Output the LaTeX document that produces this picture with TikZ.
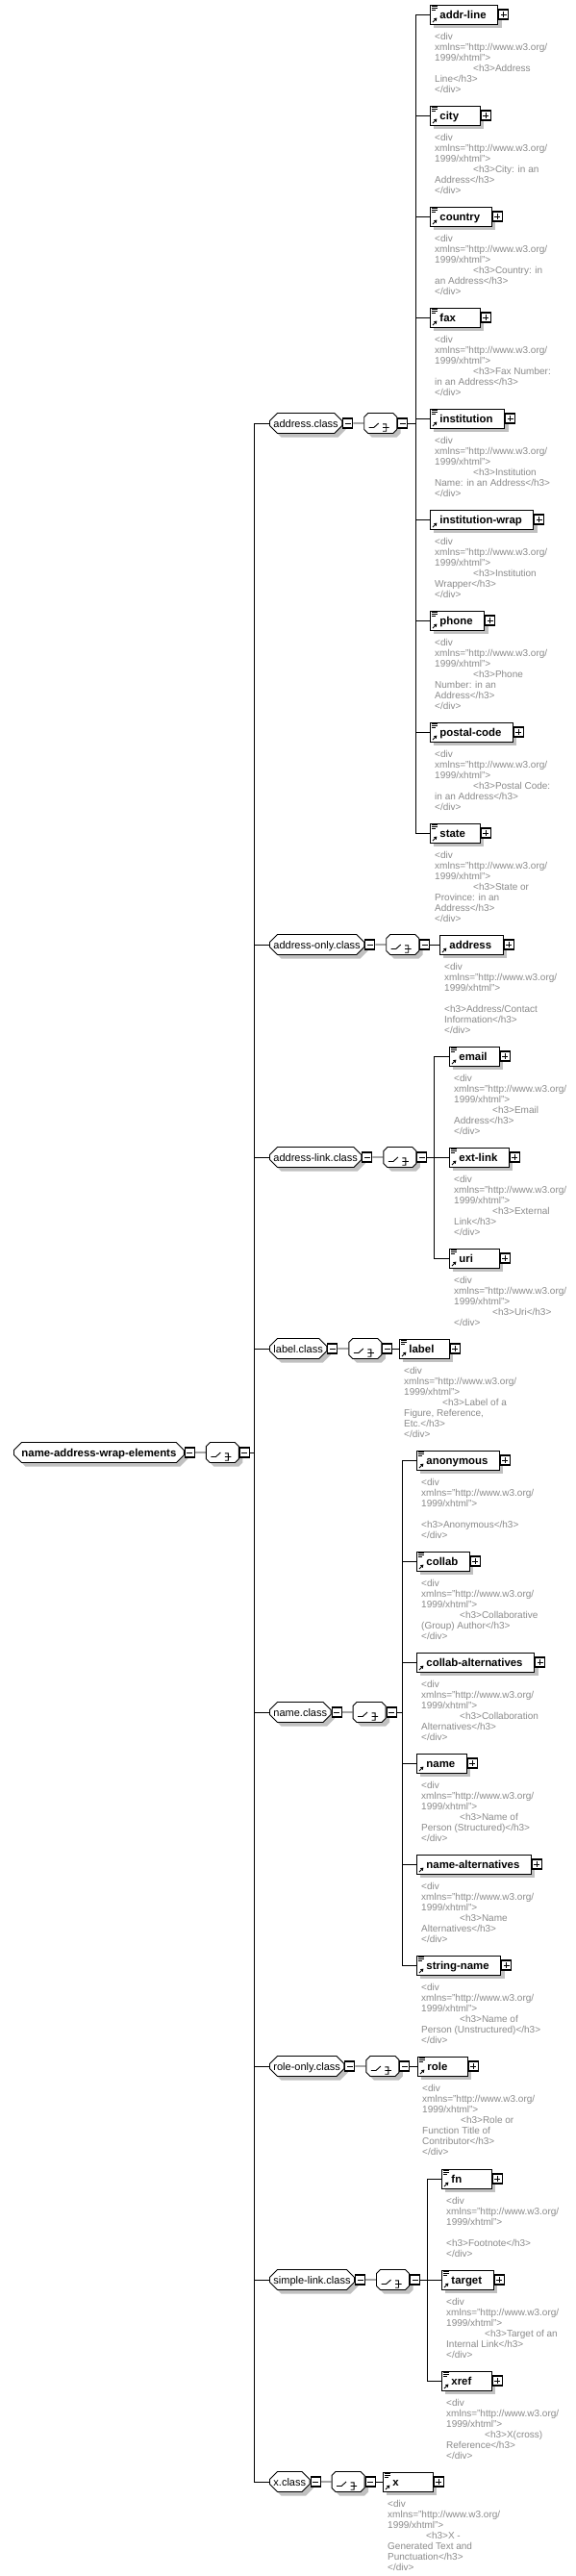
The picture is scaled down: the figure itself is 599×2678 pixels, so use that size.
\documentclass[tikz,border=0pt]{standalone}
\usepackage{fontspec}
\setmainfont{Liberation Sans}
\usepackage{tikz}
\usetikzlibrary{arrows.meta,positioning,shapes.misc,shadows}
\definecolor{xsink}{HTML}{000000}
\definecolor{xsshadow}{HTML}{C0C0C0}
\definecolor{xsdoc}{HTML}{8A8A8A}
\newcommand{\xsfont}[1]{\fontsize{#1}{#1}\selectfont}
\newcommand{\xshead}{<div\\xmlns="http://www.w3.org/\\1999/xhtml">}
\newcommand{\xsind}{\hspace*{40pt}}
\newcommand{\xsdocmark}{%
  \draw[line width=0.7pt]
    ([xshift=2pt,yshift=-1.5pt]path picture bounding box.north west) -- ++(6pt,0pt)
    ([xshift=2pt,yshift=-3.5pt]path picture bounding box.north west) -- ++(6pt,0pt)
    ([xshift=2pt,yshift=-5.5pt]path picture bounding box.north west) -- ++(4pt,0pt);}
\newcommand{\xsrefmark}{%
  \draw[line width=0.9pt,-{Triangle[length=3pt,width=3.5pt]}]
    ([xshift=2.5pt,yshift=2pt]path picture bounding box.south west) -- ++(4.5pt,4.5pt);}
\newcommand{\xschoicemark}{%
  \begin{scope}[shift={(path picture bounding box.center)}]
    \draw[line width=0.9pt] (-12,0) -- (-7,0) -- (-2,-4.5)
      (2.5,-3.7) -- (6,-3.7) -- (6,3.7) -- (2.5,3.7) (2.5,0) -- (9,0);
    \fill (-0.7,-4.9) rectangle ++(2.4,2.4) (-0.7,-1.2) rectangle ++(2.4,2.4)
      (-0.7,2.5) rectangle ++(2.4,2.4);
  \end{scope}}
\tikzset{
  wire/.style={draw=xsink, line width=0.9pt},
  shade/.style={drop shadow={shadow xshift=4pt, shadow yshift=-4pt,
                fill=xsshadow, opacity=1}},
  btn/.style={rectangle, draw=xsink, line width=1.1pt, fill=white,
              minimum size=10pt, inner sep=0pt},
  minusbox/.style={btn, path picture={
      \draw[line width=1pt] ([xshift=2pt]path picture bounding box.west)
        -- ([xshift=-2pt]path picture bounding box.east);}},
  plusbox/.style={btn, path picture={
      \draw[line width=1pt] ([xshift=2pt]path picture bounding box.west)
        -- ([xshift=-2pt]path picture bounding box.east)
        ([yshift=-2pt]path picture bounding box.north)
        -- ([yshift=2pt]path picture bounding box.south);}},
  elbase/.style={rectangle, draw=xsink, line width=0.9pt, fill=white, shade,
                 anchor=west, minimum height=20pt,
                 inner xsep=10pt, inner ysep=0pt, text height=8pt, text depth=0pt,
                 font=\xsfont{11.4}\bfseries,
                 execute at begin node={\setbox0=\hbox\bgroup},
                 execute at end node={\egroup\ifdim\wd0<30pt
                   \hbox to 30pt{\unhbox0\hfil}\else\box0\fi\hspace{2pt}},
                 label distance=-5pt, label={[plusbox]east:}},
  elem/.style={elbase, path picture={\xsdocmark\xsrefmark}},
  elemnd/.style={elbase, path picture={\xsrefmark}},
  grp/.style={chamfered rectangle, chamfered rectangle xsep=4pt,
              chamfered rectangle ysep=4pt, draw=xsink, line width=0.9pt,
              fill=white, shade, anchor=west, minimum height=21pt,
              inner xsep=0pt, inner ysep=0pt, text height=9pt, text depth=0pt,
              font=\xsfont{11}},
  choice/.style={grp, minimum width=34pt, path picture={\xschoicemark}},
  doc/.style={inner sep=0pt, align=left, text=xsdoc,
              font=\fontsize{10}{11}\selectfont},
}

\begin{document}
\begin{tikzpicture}[x=1pt,y=-1pt]
\useasboundingbox (0,0) rectangle (599,2678);

% root group
\node[grp,inner xsep=4pt,font=\xsfont{11.4}\bfseries] (root) at (14,1510)
  {name-address-wrap-elements};
\node[minusbox,right=0pt of root] (root-m) {};
\node[choice,right=11pt of root-m] (root-c) {};
\node[minusbox,right=0pt of root-c] (root-cm) {};
\coordinate (trunk) at (264,1510);

% class groups
\node[grp] (addrcls) at (280,440) {address.class};
\node[grp] (addronly) at (280,982) {address-only.class};
\node[grp] (addrlink) at (280,1203) {address-link.class};
\node[grp] (labelcls) at (280,1402) {label.class};
\node[grp] (namecls) at (280,1780) {name.class};
\node[grp] (roleonly) at (280,2148) {role-only.class};
\node[grp] (simplelink) at (280,2370) {simple-link.class};
\node[grp] (xcls) at (280,2580) {x.class};

\node[minusbox,right=0pt of addrcls] (addrcls-m) {};
\node[choice,right=11pt of addrcls-m] (addrcls-c) {};
\node[minusbox,right=0pt of addrcls-c] (addrcls-cm) {};
\node[minusbox,right=0pt of addronly] (addronly-m) {};
\node[choice,right=11pt of addronly-m] (addronly-c) {};
\node[minusbox,right=0pt of addronly-c] (addronly-cm) {};
\node[minusbox,right=0pt of addrlink] (addrlink-m) {};
\node[choice,right=11pt of addrlink-m] (addrlink-c) {};
\node[minusbox,right=0pt of addrlink-c] (addrlink-cm) {};
\node[minusbox,right=0pt of labelcls] (labelcls-m) {};
\node[choice,right=11pt of labelcls-m] (labelcls-c) {};
\node[minusbox,right=0pt of labelcls-c] (labelcls-cm) {};
\node[minusbox,right=0pt of namecls] (namecls-m) {};
\node[choice,right=11pt of namecls-m] (namecls-c) {};
\node[minusbox,right=0pt of namecls-c] (namecls-cm) {};
\node[minusbox,right=0pt of roleonly] (roleonly-m) {};
\node[choice,right=11pt of roleonly-m] (roleonly-c) {};
\node[minusbox,right=0pt of roleonly-c] (roleonly-cm) {};
\node[minusbox,right=0pt of simplelink] (simplelink-m) {};
\node[choice,right=11pt of simplelink-m] (simplelink-c) {};
\node[minusbox,right=0pt of simplelink-c] (simplelink-cm) {};
\node[minusbox,right=0pt of xcls] (xcls-m) {};
\node[choice,right=11pt of xcls-m] (xcls-c) {};
\node[minusbox,right=0pt of xcls-c] (xcls-cm) {};

% address.class
\coordinate (addrcls-b) at (432,440);
\node[elem] (addrline) at (447,15) {addr-line};
\node[elem] (city) at (447,120) {city};
\node[elem] (country) at (447,225) {country};
\node[elem] (fax) at (447,330) {fax};
\node[elem] (institution) at (447,435) {institution};
\node[elemnd] (instwrap) at (447,540) {institution-wrap};
\node[elem] (phone) at (447,645) {phone};
\node[elem] (postal) at (447,761) {postal-code};
\node[elem] (state) at (447,866) {state};
\node[doc,below right=9pt and 5pt of addrline.south west] (addrline-d)
  {\xshead\\\xsind<h3>Address\\Line</h3>\\</div>};
\node[doc,below right=9pt and 5pt of city.south west] (city-d)
  {\xshead\\\xsind<h3>City: in an\\Address</h3>\\</div>};
\node[doc,below right=9pt and 5pt of country.south west] (country-d)
  {\xshead\\\xsind<h3>Country: in\\an Address</h3>\\</div>};
\node[doc,below right=9pt and 5pt of fax.south west] (fax-d)
  {\xshead\\\xsind<h3>Fax Number:\\in an Address</h3>\\</div>};
\node[doc,below right=9pt and 5pt of institution.south west] (institution-d)
  {\xshead\\\xsind<h3>Institution\\Name: in an Address</h3>\\</div>};
\node[doc,below right=9pt and 5pt of instwrap.south west] (instwrap-d)
  {\xshead\\\xsind<h3>Institution\\Wrapper</h3>\\</div>};
\node[doc,below right=9pt and 5pt of phone.south west] (phone-d)
  {\xshead\\\xsind<h3>Phone\\Number: in an\\Address</h3>\\</div>};
\node[doc,below right=9pt and 5pt of postal.south west] (postal-d)
  {\xshead\\\xsind<h3>Postal Code:\\in an Address</h3>\\</div>};
\node[doc,below right=9pt and 5pt of state.south west] (state-d)
  {\xshead\\\xsind<h3>State or\\Province: in an\\Address</h3>\\</div>};

% address-only.class
\node[elemnd] (address) at (457,982) {address};
\node[doc,below right=9pt and 5pt of address.south west] (address-d)
  {\xshead\\[11pt]<h3>Address/Contact\\Information</h3>\\</div>};

% address-link.class
\coordinate (addrlink-b) at (451,1203);
\node[elem] (email) at (467,1098) {email};
\node[elem] (extlink) at (467,1203) {ext-link};
\node[elem] (uri) at (467,1308) {uri};
\node[doc,below right=9pt and 5pt of email.south west] (email-d)
  {\xshead\\\xsind<h3>Email\\Address</h3>\\</div>};
\node[doc,below right=9pt and 5pt of extlink.south west] (extlink-d)
  {\xshead\\\xsind<h3>External\\Link</h3>\\</div>};
\node[doc,below right=9pt and 5pt of uri.south west] (uri-d)
  {\xshead\\\xsind<h3>Uri</h3>\\</div>};

% label.class
\node[elem] (label) at (415,1402) {label};
\node[doc,below right=9pt and 5pt of label.south west] (label-d)
  {\xshead\\\xsind<h3>Label of a\\Figure, Reference,\\Etc.</h3>\\</div>};

% name.class
\coordinate (namecls-b) at (418,1780);
\node[elem] (anonymous) at (433,1518) {anonymous};
\node[elem] (collab) at (433,1623) {collab};
\node[elemnd] (collabalt) at (433,1728) {collab-alternatives};
\node[elemnd] (name) at (433,1833) {name};
\node[elemnd] (namealt) at (433,1938) {name-alternatives};
\node[elem] (stringname) at (433,2043) {string-name};
\node[doc,below right=9pt and 5pt of anonymous.south west] (anonymous-d)
  {\xshead\\[11pt]<h3>Anonymous</h3>\\</div>};
\node[doc,below right=9pt and 5pt of collab.south west] (collab-d)
  {\xshead\\\xsind<h3>Collaborative\\(Group) Author</h3>\\</div>};
\node[doc,below right=9pt and 5pt of collabalt.south west] (collabalt-d)
  {\xshead\\\xsind<h3>Collaboration\\Alternatives</h3>\\</div>};
\node[doc,below right=9pt and 5pt of name.south west] (name-d)
  {\xshead\\\xsind<h3>Name of\\Person (Structured)</h3>\\</div>};
\node[doc,below right=9pt and 5pt of namealt.south west] (namealt-d)
  {\xshead\\\xsind<h3>Name\\Alternatives</h3>\\</div>};
\node[doc,below right=9pt and 5pt of stringname.south west] (stringname-d)
  {\xshead\\\xsind<h3>Name of\\Person (Unstructured)</h3>\\</div>};

% role-only.class
\node[elem] (role) at (434,2148) {role};
\node[doc,below right=9pt and 5pt of role.south west] (role-d)
  {\xshead\\\xsind<h3>Role or\\Function Title of\\Contributor</h3>\\</div>};

% simple-link.class
\coordinate (simplelink-b) at (444,2370);
\node[elem] (fn) at (459,2265) {fn};
\node[elem] (target) at (459,2370) {target};
\node[elem] (xref) at (459,2475) {xref};
\node[doc,below right=9pt and 5pt of fn.south west] (fn-d)
  {\xshead\\[11pt]<h3>Footnote</h3>\\</div>};
\node[doc,below right=9pt and 5pt of target.south west] (target-d)
  {\xshead\\\xsind<h3>Target of an\\Internal Link</h3>\\</div>};
\node[doc,below right=9pt and 5pt of xref.south west] (xref-d)
  {\xshead\\\xsind<h3>X(cross)\\Reference</h3>\\</div>};

% x.class
\node[elem] (x) at (398,2580) {x};
\node[doc,below right=9pt and 5pt of x.south west] (x-d)
  {\xshead\\\xsind<h3>X -\\Generated Text and\\Punctuation</h3>\\</div>};

% connectors
\draw[wire] (root-cm.east) -- (trunk)
  (trunk |- addrcls.west) -- (trunk |- xcls.west)
  (trunk |- addrcls.west) -- (addrcls.west)
  (trunk |- addronly.west) -- (addronly.west)
  (trunk |- addrlink.west) -- (addrlink.west)
  (trunk |- labelcls.west) -- (labelcls.west)
  (trunk |- namecls.west) -- (namecls.west)
  (trunk |- roleonly.west) -- (roleonly.west)
  (trunk |- simplelink.west) -- (simplelink.west)
  (trunk |- xcls.west) -- (xcls.west);
\draw[wire] (root-m) -- (root-c) (addrcls-m) -- (addrcls-c)
  (addronly-m) -- (addronly-c) (addrlink-m) -- (addrlink-c)
  (labelcls-m) -- (labelcls-c) (namecls-m) -- (namecls-c)
  (roleonly-m) -- (roleonly-c) (simplelink-m) -- (simplelink-c)
  (xcls-m) -- (xcls-c);
\draw[wire] (addrcls-cm.east) -- (addrcls-b)
  (addrcls-b |- addrline.west) -- (addrcls-b |- state.west)
  (addrcls-b |- addrline.west) -- (addrline.west)
  (addrcls-b |- city.west) -- (city.west)
  (addrcls-b |- country.west) -- (country.west)
  (addrcls-b |- fax.west) -- (fax.west)
  (addrcls-b |- institution.west) -- (institution.west)
  (addrcls-b |- instwrap.west) -- (instwrap.west)
  (addrcls-b |- phone.west) -- (phone.west)
  (addrcls-b |- postal.west) -- (postal.west)
  (addrcls-b |- state.west) -- (state.west);
\draw[wire] (addronly-cm.east) -- (address.west);
\draw[wire] (addrlink-cm.east) -- (addrlink-b)
  (addrlink-b |- email.west) -- (addrlink-b |- uri.west)
  (addrlink-b |- email.west) -- (email.west)
  (addrlink-b |- extlink.west) -- (extlink.west)
  (addrlink-b |- uri.west) -- (uri.west);
\draw[wire] (labelcls-cm.east) -- (label.west);
\draw[wire] (namecls-cm.east) -- (namecls-b)
  (namecls-b |- anonymous.west) -- (namecls-b |- stringname.west)
  (namecls-b |- anonymous.west) -- (anonymous.west)
  (namecls-b |- collab.west) -- (collab.west)
  (namecls-b |- collabalt.west) -- (collabalt.west)
  (namecls-b |- name.west) -- (name.west)
  (namecls-b |- namealt.west) -- (namealt.west)
  (namecls-b |- stringname.west) -- (stringname.west);
\draw[wire] (roleonly-cm.east) -- (role.west);
\draw[wire] (simplelink-cm.east) -- (simplelink-b)
  (simplelink-b |- fn.west) -- (simplelink-b |- xref.west)
  (simplelink-b |- fn.west) -- (fn.west)
  (simplelink-b |- target.west) -- (target.west)
  (simplelink-b |- xref.west) -- (xref.west);
\draw[wire] (xcls-cm.east) -- (x.west);
\end{tikzpicture}
\end{document}
